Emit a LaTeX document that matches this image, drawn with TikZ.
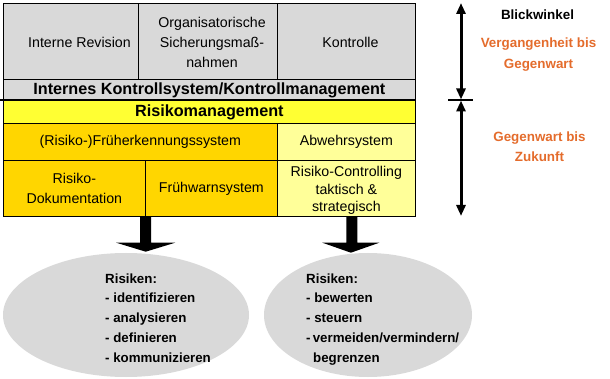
\documentclass[tikz,border=0pt]{standalone}
\usepackage{fontspec}
\setmainfont{Liberation Sans}
\usetikzlibrary{arrows.meta,shapes.geometric,calc}
\definecolor{cgrey}{RGB}{217,217,217}
\definecolor{cyel}{RGB}{255,255,51}
\definecolor{cgold}{RGB}{255,214,0}
\definecolor{clight}{RGB}{255,255,153}
\definecolor{corange}{RGB}{228,108,44}
\begin{document}
\begin{tikzpicture}[x=1pt,y=-1pt,
 cellbox/.style={draw=black, line width=0.7pt, anchor=north west, inner sep=0pt, align=center, font=\fontsize{14.2}{20}\selectfont},
 celltext/.style={align=center, inner sep=0pt, font=\fontsize{14.2}{20}\selectfont},
 headtext/.style={font=\bfseries\fontsize{16.2}{20}\selectfont},
 blockarrow/.style={fill=black},
 ell/.style={ellipse, fill=cgrey, inner sep=0pt},
 elltext/.style={anchor=base west, align=left, inner sep=0pt, font=\bfseries\fontsize{13.3}{19.8}\selectfont},
 sidetext/.style={align=center, inner sep=0pt, font=\bfseries\fontsize{13.4}{21}\selectfont},
 timeline/.style={line width=3pt, {Triangle[width=9pt,length=11pt]}-{Triangle[width=9pt,length=11pt]}}
]
\useasboundingbox (0,0) rectangle (610,379);
% top grey row
\node[cellbox, fill=cgrey, minimum width=135pt, minimum height=76pt] (rev) at (3,3) {};
\node[cellbox, fill=cgrey, minimum width=139pt, minimum height=76pt] (org) at (138,3) {};
\node[cellbox, fill=cgrey, minimum width=138pt, minimum height=76pt] (kon) at (277,3) {};
\node[celltext] (revt) at (79.5,42) {Interne Revision};
\node[celltext] (orgt) at (212,42) {Organisatorische\\Sicherungsmaß-\\nahmen};
\node[celltext] (kont) at (350.5,42) {Kontrolle};
% IKS row
\node[cellbox, fill=cgrey, minimum width=412pt, minimum height=21pt, headtext] (iks) at (3,79) {Internes Kontrollsystem/Kontrollmanagement};
% Risikomanagement row
\node[cellbox, fill=cyel, minimum width=412pt, minimum height=23pt, headtext] (rm) at (3,100) {Risikomanagement};
\coordinate (tl) at (0,100);
\draw[line width=2pt] (tl) -- (rm.north east);
% yellow rows
\node[cellbox, fill=cgold, minimum width=274pt, minimum height=37pt] (fes) at (3,123) {(Risiko-)Früherkennungssystem};
\node[cellbox, fill=clight, minimum width=138pt, minimum height=37pt] (abw) at (277,123) {Abwehrsystem};
\node[cellbox, fill=cgold, minimum width=142pt, minimum height=56pt] (dok) at (3,160) {Risiko-\\Dokumentation};
\node[cellbox, fill=cgold, minimum width=132pt, minimum height=56pt] (fws) at (145,160) {Frühwarnsystem};
\node[cellbox, fill=clight, minimum width=138pt, minimum height=56pt, font=\fontsize{14.2}{17.5}\selectfont] (rc) at (277,160) {\rule{0pt}{15pt}Risiko-Controlling\\taktisch \&\\strategisch};
% ellipses
\node[ell, minimum width=246pt, minimum height=124pt] (e1) at (126,315) {};
\node[ell, minimum width=208pt, minimum height=124pt] (e2) at (368,315) {};
\node[elltext] (e1t) at (105,362.2) {Risiken:\\- identifizieren\\- analysieren\\- definieren\\- kommunizieren};
\node[elltext] (e2t) at (306,362.2) {Risiken:\\- bewerten\\- steuern\\-\,vermeiden/vermindern/\\\hspace*{7pt}begrenzen};
% block arrows
\path[blockarrow] ($(dok.south east)+(-5.5,0)$) -- ++(11,0) -- ++(0,26) -- ++(24,0) -- ++(-29.5,9) -- ++(-29.5,-9) -- ++(24,0) -- cycle;
\path[blockarrow] (rc.south) -- ++(11,0) -- ++(0,26) -- ++(22,0) -- ++(-28.5,10) -- ++(-28.5,-10) -- ++(24,0) -- cycle;
% timeline
\coordinate (a1) at (461,3);
\coordinate (a2) at (461,99.5);
\coordinate (a3) at (461,100.5);
\coordinate (a4) at (461,216);
\coordinate (c1) at (448,100);
\coordinate (c2) at (473,100);
\draw[timeline] (a1) -- (a2);
\draw[timeline] (a3) -- (a4);
\draw[line width=1.2pt] (c1) -- (c2);
\node[sidetext] (blick) at (537.5,15) {Blickwinkel};
\node[sidetext, text=corange] (verg) at (538.5,54.5) {Vergangenheit bis\\Gegenwart};
\node[sidetext, text=corange, font=\bfseries\fontsize{13.4}{20}\selectfont] (zuk) at (539.5,147) {Gegenwart bis\\Zukunft};
\end{tikzpicture}
\end{document}
